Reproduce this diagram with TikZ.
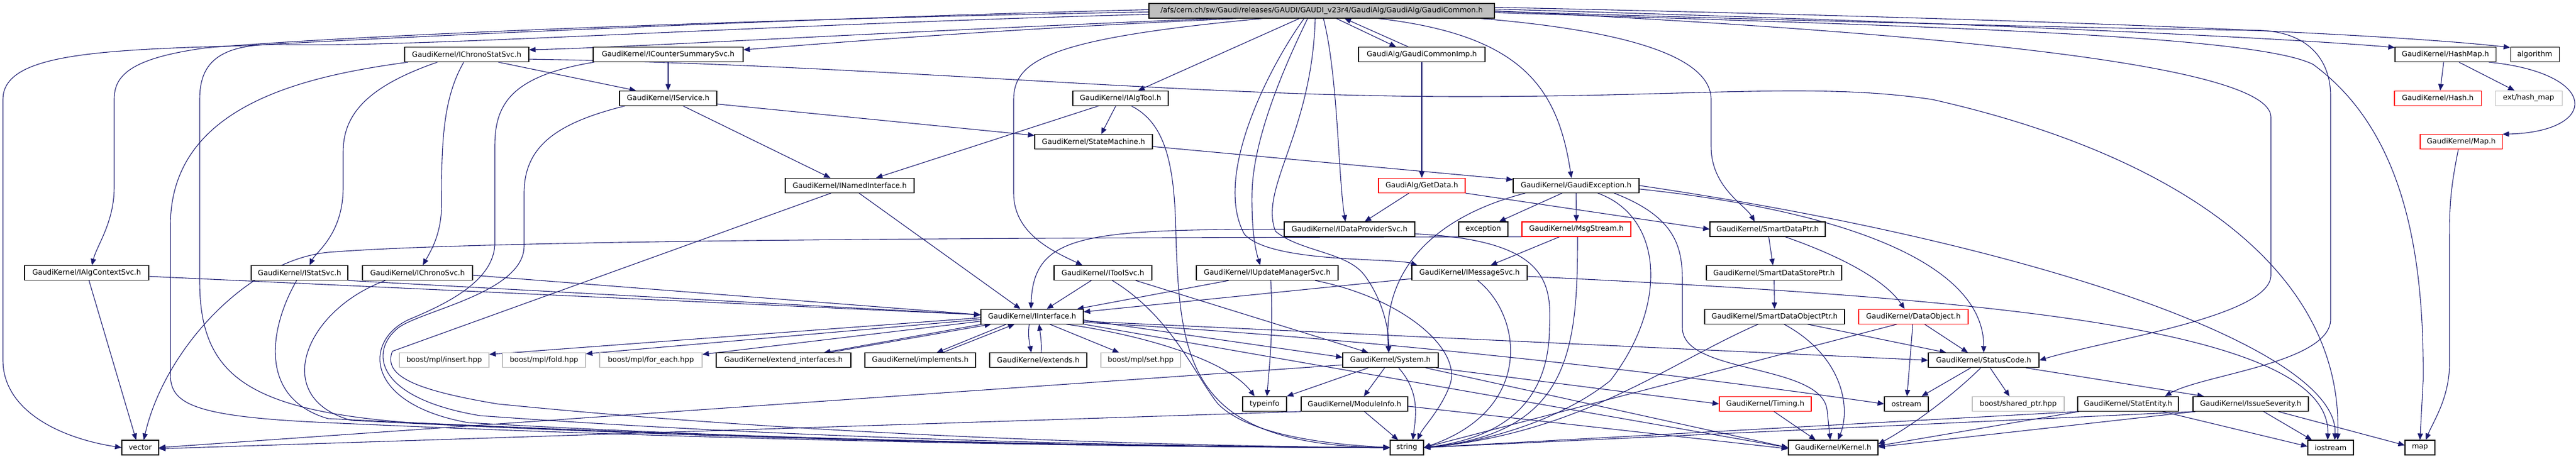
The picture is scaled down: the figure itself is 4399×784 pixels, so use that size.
\documentclass[tikz,border=0pt]{standalone}
\usepackage{fontspec}
\newfontfamily\nf{DejaVu Sans}
\usetikzlibrary{arrows.meta}
\definecolor{edgec}{RGB}{25,25,112}
\definecolor{topfill}{RGB}{191,191,191}
\definecolor{extc}{RGB}{191,191,191}
\definecolor{redc}{RGB}{255,0,0}
\pgfdeclarelayer{bg}
\pgfsetlayers{bg,main}
\begin{document}
\begin{tikzpicture}[x=1pt,y=-1pt,
 nd/.style={draw=black,line width=1.1pt,fill=white,minimum height=25pt,inner sep=0pt,font=\nf\fontsize{12.4pt}{14pt}\selectfont},
 rnd/.style={nd,draw=redc},
 gnd/.style={nd,draw=extc},
 tnd/.style={nd,fill=topfill},
 e/.style={draw=edgec,line width=1.1pt,-{Triangle[length=11pt,width=9pt]}}]
\useasboundingbox (0,0) rectangle (4399,784);
% ---------------- nodes ----------------
\node[tnd,minimum width=590pt] (T) at (2257,18.5) {/afs/cern.ch/sw/Gaudi/releases/GAUDI/GAUDI\_v23r4/GaudiAlg/GaudiAlg/GaudiCommon.h};
\node[nd,minimum width=212pt] (chronostat) at (797,93.1) {GaudiKernel/IChronoStatSvc.h};
\node[nd,minimum width=256pt] (counter) at (1141,93.1) {GaudiKernel/ICounterSummarySvc.h};
\node[nd,minimum width=216pt] (commonimp) at (2428,93.1) {GaudiAlg/GaudiCommonImp.h};
\node[nd,minimum width=172pt] (hashmap) at (4176,93.1) {GaudiKernel/HashMap.h};
\node[nd,minimum width=83pt] (algorithm) at (4328.5,93.1) {algorithm};
\node[nd,minimum width=166pt] (service) at (1141,167.7) {GaudiKernel/IService.h};
\node[nd,minimum width=163pt] (algtool) at (1913.5,167.7) {GaudiKernel/IAlgTool.h};
\node[rnd,minimum width=148pt] (hash) at (4163,167.7) {GaudiKernel/Hash.h};
\node[gnd,minimum width=114pt] (exthash) at (4318,167.7) {ext/hash\_map};
\node[nd,minimum width=201pt] (statemachine) at (1867.5,242.3) {GaudiKernel/StateMachine.h};
\node[rnd,minimum width=140pt] (mapH) at (4203,242.3) {GaudiKernel/Map.h};
\node[nd,minimum width=220pt] (named) at (1451,316.9) {GaudiKernel/INamedInterface.h};
\node[rnd,minimum width=148pt] (getdata) at (2428,316.9) {GaudiAlg/GetData.h};
\node[nd,minimum width=215pt] (gexc) at (2691.5,316.9) {GaudiKernel/GaudiException.h};
\node[nd,minimum width=223pt] (dataprov) at (2304.5,391.5) {GaudiKernel/IDataProviderSvc.h};
\node[nd,minimum width=84pt] (exception) at (2533,391.5) {exception};
\node[rnd,minimum width=186pt] (msgstream) at (2692,391.5) {GaudiKernel/MsgStream.h};
\node[nd,minimum width=197pt] (smartptr) at (3018.5,391.5) {GaudiKernel/SmartDataPtr.h};
\node[nd,minimum width=212pt] (algctx) at (148,466.1) {GaudiKernel/IAlgContextSvc.h};
\node[nd,minimum width=165pt] (statsvc) at (511.5,466.1) {GaudiKernel/IStatSvc.h};
\node[nd,minimum width=188pt] (chronosvc) at (713,466.1) {GaudiKernel/IChronoSvc.h};
\node[nd,minimum width=167pt] (toolsvc) at (1883.5,466.1) {GaudiKernel/IToolSvc.h};
\node[nd,minimum width=242pt] (updmgr) at (2164,466.1) {GaudiKernel/IUpdateManagerSvc.h};
\node[nd,minimum width=197pt] (msgsvc) at (2509.5,466.1) {GaudiKernel/IMessageSvc.h};
\node[nd,minimum width=231pt] (storeptr) at (3029.5,466.1) {GaudiKernel/SmartDataStorePtr.h};
\node[nd,minimum width=175pt] (iface) at (1762.5,540.7) {GaudiKernel/IInterface.h};
\node[nd,minimum width=239pt] (objptr) at (3030.5,540.7) {GaudiKernel/SmartDataObjectPtr.h};
\node[rnd,minimum width=187pt] (dataobj) at (3267.5,540.7) {GaudiKernel/DataObject.h};
\node[gnd,minimum width=153pt] (insert) at (758.5,615.3) {boost/mpl/insert.hpp};
\node[gnd,minimum width=142pt] (fold) at (929,615.3) {boost/mpl/fold.hpp};
\node[gnd,minimum width=175pt] (foreach) at (1111.5,615.3) {boost/mpl/for\_each.hpp};
\node[nd,minimum width=230pt] (extif) at (1338,615.3) {GaudiKernel/extend\_interfaces.h};
\node[nd,minimum width=189pt] (implements) at (1571.5,615.3) {GaudiKernel/implements.h};
\node[nd,minimum width=166pt] (extends) at (1773,615.3) {GaudiKernel/extends.h};
\node[gnd,minimum width=136pt] (mplset) at (1948,615.3) {boost/mpl/set.hpp};
\node[nd,minimum width=163pt] (system) at (2374.5,615.3) {GaudiKernel/System.h};
\node[nd,minimum width=189pt] (status) at (3387.5,615.3) {GaudiKernel/StatusCode.h};
\node[nd,minimum width=75pt] (typeinfo) at (2159.5,689.9) {typeinfo};
\node[nd,minimum width=182pt] (moduleinfo) at (2313,689.9) {GaudiKernel/ModuleInfo.h};
\node[rnd,minimum width=157pt] (timing) at (3014.5,689.9) {GaudiKernel/Timing.h};
\node[nd,minimum width=75pt] (ostream) at (3255.5,689.9) {ostream};
\node[gnd,minimum width=157pt] (sharedptr) at (3446.5,689.9) {boost/shared\_ptr.hpp};
\node[nd,minimum width=172pt] (statentity) at (3634,689.9) {GaudiKernel/StatEntity.h};
\node[nd,minimum width=197pt] (severity) at (3843.5,689.9) {GaudiKernel/IssueSeverity.h};
\node[nd,minimum width=63pt] (vector) at (239.5,764.5) {vector};
\node[nd,minimum width=57pt] (string) at (2402.5,764.5) {string};
\node[nd,minimum width=153pt] (kernel) at (3130.5,764.5) {GaudiKernel/Kernel.h};
\node[nd,minimum width=78pt] (iostream) at (3980,764.5) {iostream};
\node[nd,minimum width=51pt] (map) at (4132.5,764.5) {map};
% ---------------- edges ----------------
\begin{pgfonlayer}{bg}
\fill[white] (0,0) rectangle (4399,784);
% top node
\draw[e] ([yshift=2pt]T.west) .. controls (1400,30) and (700,62) .. (420,78) .. controls (150,85) and (5,95) .. (5,170) -- (5,615) .. controls (5,700) and (100,748) .. (vector.west);
\draw[e] ([yshift=-2pt]T.west) .. controls (1300,32) and (600,60) .. (350,82) .. controls (220,100) and (195,130) .. (195,170) -- (195,320) .. controls (195,380) and (165,420) .. ([xshift=9pt]algctx.north);
\draw[e] ([yshift=-6pt]T.west) .. controls (1300,42) and (700,82) .. (480,76) .. controls (370,74) and (341,110) .. (341,170) -- (341,480) .. controls (341,640) and (420,700) .. (700,722) .. controls (1400,758) and (2100,764) .. (string.west);
\draw[e] ([xshift=-178pt]T.south) .. controls (1500,55) and (1100,80) .. ([yshift=8pt]chronostat.east);
\draw[e] ([xshift=-143pt]T.south) .. controls (1700,50) and (1400,75) .. ([yshift=8pt]counter.east);
\draw[e] ([xshift=-100pt]T.south) .. controls (1800,65) and (1731,100) .. (1731,170) -- (1731,330) .. controls (1731,400) and (1800,430) .. ([xshift=-35pt]toolsvc.north);
\draw[e] ([xshift=-38pt]T.south) -- ([xshift=30pt]algtool.north);
\draw[e] ([xshift=-24pt]T.south) .. controls (2200,100) and (2140,230) .. (2138,330) .. controls (2137,400) and (2145,430) .. ([xshift=-12pt]updmgr.north);
\draw[e] ([xshift=3pt]T.south) .. controls (2285,130) and (2285,300) .. ([xshift=-7pt]dataprov.north);
\draw[e] ([xshift=-11pt]T.south) .. controls (2240,230) and (2150,320) .. (2178,395) .. controls (2220,430) and (2300,430) .. (2330,470) .. controls (2360,510) and (2372,560) .. ([xshift=-3pt]system.north);
\draw[e] ([xshift=-30pt]T.south) .. controls (2170,110) and (2070,300) .. (2125,400) .. controls (2170,450) and (2380,440) .. ([xshift=10pt]msgsvc.north west);
\draw[e] ([xshift=25pt]T.south) -- ([xshift=-44pt]commonimp.north);
\draw[e] ([xshift=-23pt]commonimp.north) -- ([xshift=39pt]T.south);
\draw[e] ([xshift=96pt]T.south) .. controls (2600,60) and (2660,150) .. ([xshift=-8pt]gexc.north);
\draw[e] ([xshift=270pt]T.south) .. controls (2750,50) and (2922,90) .. (2922,170) -- (2922,250) .. controls (2922,320) and (2980,350) .. ([xshift=-22pt]smartptr.north);
\draw[e] ([yshift=6pt]T.east) .. controls (3600,35) and (4100,60) .. ([yshift=12pt]algorithm.west);
\draw[e] ([yshift=3pt]T.east) .. controls (3400,40) and (3900,65) .. ([yshift=12pt]hashmap.west);
\draw[e] ([yshift=-3pt]T.east) .. controls (3300,45) and (3850,60) .. (3950,110) .. controls (4100,220) and (4140,420) .. (4138,650) -- (map.north);
\draw[e] (T.east) .. controls (3300,55) and (3878,110) .. (3878,200) -- (3878,470) .. controls (3878,540) and (3600,580) .. (status.east);
\draw[e] ([yshift=-1pt]T.east) .. controls (3400,45) and (3700,50) .. (3860,52) .. controls (3940,55) and (3980,100) .. (3980,165) -- (3980,545) .. controls (3980,620) and (3760,640) .. ([xshift=63pt]statentity.north);
% GaudiCommonImp, GetData
\draw[e] (commonimp) -- (getdata);
\draw[e] ([xshift=-22pt]getdata.south) -- ([xshift=26pt]dataprov.north);
\draw[e] (getdata.south east) -- (smartptr.west);
% StateMachine, IService, IAlgTool, ICounterSummarySvc
\draw[e] ([yshift=-8pt]statemachine.east) -- ([yshift=10pt]gexc.west);
\draw[e] ([yshift=-10pt]service.east) -- ([yshift=11pt]statemachine.west);
\draw[e] ([xshift=25pt]service.south) -- ([xshift=-33pt]named.north);
\draw[e] ([xshift=-73pt]service.south) .. controls (950,210) and (895,250) .. (895,330) -- (895,420) .. controls (895,500) and (720,530) .. (680,560) .. controls (630,600) and (640,680) .. (820,710) .. controls (1400,752) and (2000,763) .. (string.west);
\draw[e] (counter) -- (service);
\draw[e] ([xshift=-126pt]counter.south) .. controls (870,130) and (845,180) .. (845,250) -- (845,415) .. controls (845,480) and (760,520) .. (700,545) .. controls (620,580) and (620,690) .. (800,722) .. controls (1400,756) and (2000,764) .. (string.west);
% IChronoStatSvc
\draw[e] ([xshift=54pt]chronostat.south) -- ([xshift=-55pt]service.north);
\draw[e] ([xshift=-5pt]chronostat.south) .. controls (755,170) and (754,250) .. (754,350) .. controls (754,400) and (735,430) .. ([xshift=9pt]chronosvc.north);
\draw[e] ([xshift=-50pt]chronostat.south) .. controls (620,150) and (586,200) .. (586,260) -- (586,320) .. controls (586,400) and (540,430) .. ([xshift=17pt]statsvc.north);
\draw[e] ([xshift=-100pt]chronostat.south) .. controls (520,130) and (291,180) .. (291,385) -- (291,640) .. controls (291,690) and (330,712) .. (560,722) .. controls (1300,756) and (2000,764) .. (string.west);
\draw[e] ([yshift=-8pt]chronostat.east) .. controls (1500,110) and (2000,165) .. (2500,165) .. controls (2900,165) and (3100,140) .. (3300,170) .. controls (3700,260) and (4000,450) .. ([xshift=12pt]iostream.north);
% IAlgTool
\draw[e] ([xshift=-37pt]algtool.south) -- ([xshift=45pt]named.north);
\draw[e] ([xshift=-8pt]algtool.south) -- ([xshift=13pt]statemachine.north);
\draw[e] ([xshift=18pt]algtool.south) .. controls (1990,210) and (2006,280) .. (2008,400) .. controls (2015,620) and (2030,760) .. (string.west);
% INamedInterface
\draw[e] ([xshift=16pt]named.south) -- ([xshift=-20pt]iface.north);
\draw[e] ([xshift=-32pt]named.south) -- (670,600) .. controls (655,640) and (700,665) .. (850,690) .. controls (1400,745) and (2000,762) .. (string.west);
% IStatSvc, IChronoSvc, IAlgContextSvc
\draw[e] (statsvc.south east) -- ([yshift=3pt]iface.west);
\draw[e] ([yshift=-4pt]chronosvc.east) -- ([yshift=3pt]iface.west);
\draw[e] ([yshift=-6pt]algctx.east) -- ([yshift=3pt]iface.west);
\draw[e] ([xshift=4pt]algctx.south) -- ([xshift=-7pt]vector.north);
\draw[e] ([xshift=-5pt]statsvc.south) .. controls (460,560) and (440,680) .. (560,715) .. controls (1300,752) and (2000,764) .. (string.west);
\draw[e] ([xshift=-55pt]chronosvc.south) .. controls (520,530) and (460,680) .. (600,718) .. controls (1300,754) and (2000,764) .. (string.west);
% IToolSvc
\draw[e] ([xshift=-20pt]toolsvc.south) -- ([xshift=25pt]iface.north);
\draw[e] ([xshift=56pt]toolsvc.south) -- ([xshift=-38pt]system.north);
\draw[e] ([xshift=16pt]toolsvc.south) .. controls (2000,540) and (2040,640) .. (2080,690) .. controls (2130,740) and (2250,758) .. (string.west);
% IUpdateManagerSvc
\draw[e] ([xshift=-66pt]updmgr.south) -- ([xshift=77pt]iface.north);
\draw[e] ([xshift=6pt]updmgr.south) .. controls (2175,560) and (2168,620) .. ([xshift=4pt]typeinfo.north);
\draw[e] ([xshift=82pt]updmgr.south) .. controls (2400,510) and (2500,600) .. (2475,660) .. controls (2460,700) and (2430,730) .. ([xshift=18pt]string.north);
% IMessageSvc
\draw[e] ([yshift=-10pt]msgsvc.west) -- ([yshift=8pt]iface.east);
\draw[e] ([xshift=14pt]msgsvc.south) .. controls (2600,540) and (2620,700) .. (string.east);
\draw[e] ([yshift=-6pt]msgsvc.east) .. controls (3400,510) and (3980,560) .. ([xshift=-5pt]iostream.north);
% MsgStream
\draw[e] ([xshift=-29pt]msgstream.south) -- ([xshift=36pt]msgsvc.north);
\draw[e] ([xshift=2pt]msgstream.south) .. controls (2694,600) and (2680,740) .. (string.east);
\draw[e] (msgstream.south west) .. controls (1500,406) and (800,412) .. (560,431) .. controls (420,445) and (280,600) .. ([xshift=6pt]vector.north);
% IDataProviderSvc
\draw[e] (dataprov.west) .. controls (1850,392) and (1765,400) .. ([xshift=-2pt]iface.north);
\draw[e] ([yshift=-8pt]dataprov.east) .. controls (2640,410) and (2650,480) .. (2646,560) .. controls (2645,700) and (2550,750) .. (string.east);
% GaudiException
\draw[e] ([xshift=-24pt]gexc.south) -- ([xshift=27pt]exception.north);
\draw[e] (gexc) -- (msgstream);
\draw[e] ([xshift=-87pt]gexc.south) .. controls (2450,370) and (2360,460) .. ([xshift=-3pt]system.north);
\draw[e] ([xshift=37pt]gexc.south) .. controls (2840,370) and (2850,520) .. (2750,650) .. controls (2650,730) and (2500,760) .. (string.east);
\draw[e] ([xshift=65pt]gexc.south) .. controls (2860,370) and (2873,420) .. (2873,480) -- (2873,560) .. controls (2873,640) and (3110,620) .. (3120,700) -- ([xshift=-5pt]kernel.north);
\draw[e] ([yshift=-6pt]gexc.east) .. controls (3150,360) and (3388,450) .. (status.north);
\draw[e] (gexc.east) .. controls (3500,420) and (3995,600) .. ([xshift=7pt]iostream.north);
% Smart pointers, DataObject
\draw[e] (smartptr) -- (storeptr);
\draw[e] ([xshift=30pt]smartptr.south) .. controls (3150,440) and (3220,480) .. ([xshift=-15pt]dataobj.north);
\draw[e] (storeptr) -- (objptr);
\draw[e] ([xshift=-28pt]objptr.south) .. controls (2850,620) and (2700,740) .. (string.east);
\draw[e] ([xshift=16pt]objptr.south) .. controls (3150,610) and (3160,700) .. ([xshift=8pt]kernel.north);
\draw[e] ([xshift=56pt]objptr.south) -- ([xshift=-64pt]status.north);
\draw[e] (dataobj) -- (ostream);
\draw[e] ([xshift=19pt]dataobj.south) -- ([xshift=-27pt]status.north);
\draw[e] ([xshift=-28pt]dataobj.south) -- (string.east);
% StatusCode
\draw[e] ([xshift=-22pt]status.south) -- ([xshift=26pt]ostream.north);
\draw[e] ([xshift=11pt]status.south) -- ([xshift=-15pt]sharedptr.north);
\draw[e] ([xshift=72pt]status.south) -- ([xshift=-80pt]severity.north);
\draw[e] ([xshift=-5pt]status.south) .. controls (3330,680) and (3260,730) .. ([yshift=6pt]kernel.east);
% StatEntity, IssueSeverity
\draw[e] ([xshift=59pt]statentity.south) -- ([yshift=2pt]iostream.west);
\draw[e] ([xshift=-84pt]statentity.south) -- (string.east);
\draw[e] ([xshift=-84pt]statentity.south) -- ([yshift=3pt]kernel.east);
\draw[e] ([xshift=22pt]severity.south) -- ([xshift=-32pt]iostream.north);
\draw[e] ([xshift=47pt]severity.south) -- ([yshift=4pt]map.west);
\draw[e] ([xshift=-95pt]severity.south) -- ([yshift=1pt]kernel.east);
\draw[e] ([xshift=-95pt]severity.south) -- (string.east);
% HashMap, Map
\draw[e] ([xshift=-3pt]hashmap.south) -- ([xshift=4pt]hash.north);
\draw[e] ([xshift=23pt]hashmap.south) -- ([xshift=-24pt]exthash.north);
\draw[e] ([xshift=74pt]hashmap.south) .. controls (4440,125) and (4440,225) .. (mapH.north east);
\draw[e] ([xshift=-5pt]mapH.south) .. controls (4185,320) and (4183,350) .. (4183,400) -- (4183,620) .. controls (4183,680) and (4155,720) .. ([xshift=10pt]map.north);
% IInterface
\draw[e] ([yshift=-2pt]iface.west) -- ([yshift=10pt]insert.east);
\draw[e] ([yshift=-5pt]iface.west) -- ([yshift=11pt]fold.east);
\draw[e] ([yshift=-8pt]iface.west) -- ([yshift=10pt]foreach.east);
\draw[e] ([xshift=-85pt]iface.south) -- ([xshift=69pt]extif.north);
\draw[e] ([xshift=78pt]extif.north) -- ([xshift=-70pt]iface.south);
\draw[e] ([xshift=-44pt]iface.south) -- ([xshift=28pt]implements.north);
\draw[e] ([xshift=38pt]implements.north) -- ([xshift=-30pt]iface.south);
\draw[e] ([xshift=-5pt]iface.south) .. controls (1755,575) and (1758,585) .. ([xshift=-12pt]extends.north);
\draw[e] ([xshift=5pt]extends.north) .. controls (1779,585) and (1777,575) .. ([xshift=12pt]iface.south);
\draw[e] ([xshift=30pt]iface.south) -- ([xshift=-37pt]mplset.north);
\draw[e] ([xshift=58pt]iface.south) .. controls (1970,575) and (2100,620) .. ([xshift=-17pt]typeinfo.north);
\draw[e] ([yshift=-6pt]iface.east) -- ([yshift=5pt]system.west);
\draw[e] ([yshift=-8pt]iface.east) -- (status.west);
\draw[e] ([yshift=-10pt]iface.east) .. controls (2300,575) and (2800,630) .. (ostream.west);
\draw[e] (iface.south east) -- (kernel.west);
% System, ModuleInfo, Timing
\draw[e] ([xshift=-38pt]system.south) -- (typeinfo.north east);
\draw[e] ([xshift=-10pt]system.south) -- ([xshift=16pt]moduleinfo.north);
\draw[e] ([xshift=14pt]system.south) .. controls (2425,670) and (2418,710) .. ([xshift=10pt]string.north);
\draw[e] ([xshift=60pt]system.south) -- (kernel.west);
\draw[e] ([xshift=78pt]system.south) -- (timing.west);
\draw[e] ([yshift=-8pt]system.west) -- (vector.east);
\draw[e] ([xshift=17pt]moduleinfo.south) -- ([xshift=-15pt]string.north);
\draw[e] ([yshift=-4pt]moduleinfo.east) -- ([yshift=-2pt]kernel.west);
\draw[e] (moduleinfo.south west) -- ([yshift=-2pt]vector.east);
\draw[e] ([xshift=15pt]timing.south) -- ([xshift=-30pt]kernel.north);
\end{pgfonlayer}
\end{tikzpicture}
\end{document}
